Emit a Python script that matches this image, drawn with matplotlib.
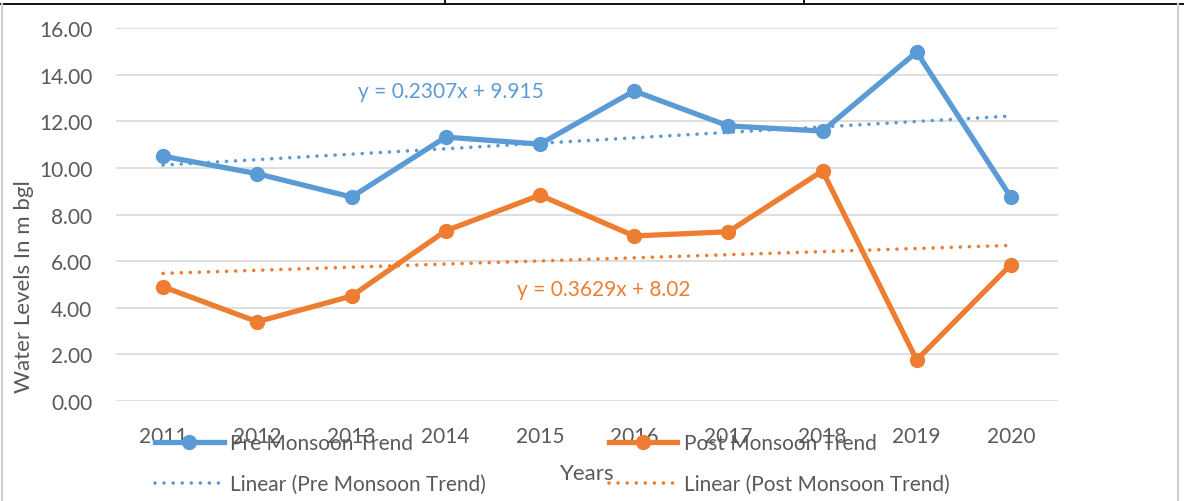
import numpy as np
import matplotlib.pyplot as plt
from matplotlib.lines import Line2D

years = ['2011', '2012', '2013', '2014', '2015', '2016', '2017', '2018', '2019', '2020']
pre_monsoon = [10.50, 9.75, 8.75, 11.32, 11.02, 13.30, 11.80, 11.58, 14.97, 8.74]
post_monsoon = [4.90, 3.40, 4.50, 7.30, 8.83, 7.08, 7.26, 9.87, 1.76, 5.85]
pre_eq = 'y = 0.2307x + 9.915'
post_eq = 'y = 0.3629x + 8.02'

blue = '#5B9BD5'
orange = '#ED7D31'
grey_txt = '#595959'

plt.rcParams['font.family'] = ['Lato', 'DejaVu Sans']

fig = plt.figure(figsize=(11.84, 5.02), dpi=100)
ax = fig.add_axes([0.098, 0.1992, 0.7956, 0.743])

x = np.arange(1, len(years) + 1)
ax.plot(x, pre_monsoon, color=blue, lw=3.8, marker='o', ms=10, label='Pre Monsoon Trend')
ax.plot(x, post_monsoon, color=orange, lw=3.8, marker='o', ms=10, label='Post Monsoon Trend')

# linear trend lines (least squares on the series)
dots = (0, (0.01, 2.5))
for vals, col, name in [(pre_monsoon, blue, 'Linear (Pre Monsoon Trend)'),
                        (post_monsoon, orange, 'Linear (Post Monsoon Trend)')]:
    k, b = np.polyfit(x, vals, 1)
    ax.plot(x, k * x + b, color=col, lw=2.6, ls=dots, dash_capstyle='round', label=name)

ax.text(4.05, 13.3, pre_eq, color=blue, fontsize=15, ha='center', va='center')
ax.text(5.68, 4.8, post_eq, color=orange, fontsize=15, ha='center', va='center')

ax.set_xlim(0.5, 10.5)
ax.set_ylim(0, 16)
ax.set_yticks(np.arange(0, 17, 2))
ax.set_yticklabels(['%.2f' % v for v in np.arange(0, 17, 2)])
ax.set_xticks(x)
ax.set_xticklabels(years)
ax.tick_params(length=0, labelsize=15, labelcolor=grey_txt)
ax.tick_params(axis='y', pad=17)
ax.tick_params(axis='x', pad=18)
ax.grid(axis='y', color='#D9D9D9', lw=1.2)
ax.set_axisbelow(True)
for s in ax.spines.values():
    s.set_visible(False)

fig.text(0.0205, 0.43, 'Water Levels In m bgl', rotation=90, ha='center', va='center',
         fontsize=16, color=grey_txt)
fig.text(0.496, 0.056, 'Years', ha='center', va='center', fontsize=16, color=grey_txt)

h, l = ax.get_legend_handles_labels()
order = [0, 2, 1, 3]
leg = fig.legend([h[i] for i in order], [l[i] for i in order], ncol=2,
                 loc='center left', bbox_to_anchor=(0.115, 0.074), frameon=False,
                 fontsize=15, handlelength=3.3, columnspacing=5.9, labelspacing=1.0,
                 handletextpad=0.3)
for t in leg.get_texts():
    t.set_color(grey_txt)

# table cell borders around the chart
fig.add_artist(Line2D([0, 1], [0.991, 0.991], color='black', lw=1.3, transform=fig.transFigure))
for xv in (445 / 1184, 804 / 1184):
    fig.add_artist(Line2D([xv, xv], [0.991, 1], color='black', lw=1.3, transform=fig.transFigure))
fig.add_artist(Line2D([0.0015, 0.0015], [0, 0.99], color='#D0D0D0', lw=1.5, transform=fig.transFigure))
fig.add_artist(Line2D([1178 / 1184, 1178 / 1184], [0, 0.99], color='#D0D0D0', lw=1.5, transform=fig.transFigure))

fig.savefig('out.png', dpi=100)
